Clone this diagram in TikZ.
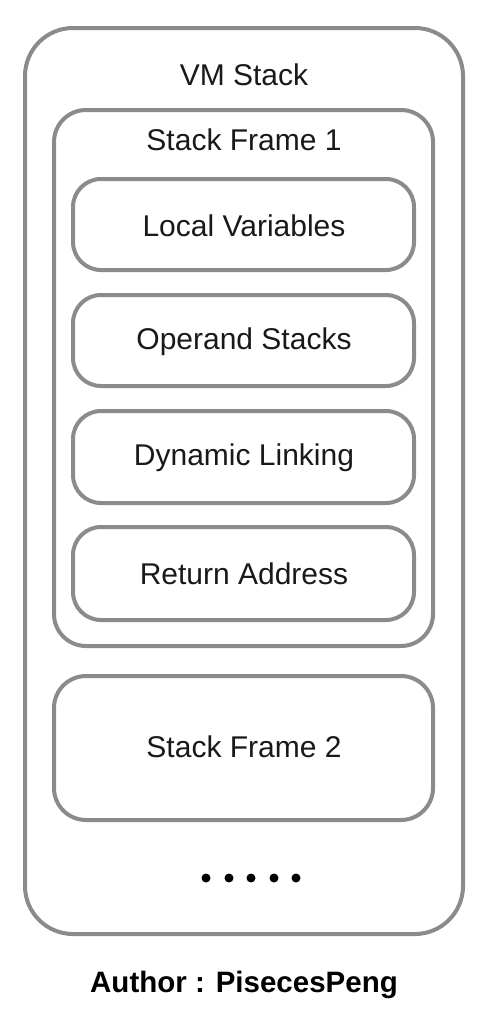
\documentclass[tikz,border=0pt]{standalone}
\usepackage{fontspec}
\setmainfont{Liberation Sans}
\begin{document}
\begin{tikzpicture}[x=1pt,y=-1pt,
  box/.style={draw=boxgray,line width=4pt},
  lbl/.style={font=\fontsize{30}{35}\selectfont,text=black!90,anchor=center,inner sep=0pt}]
\definecolor{boxgray}{HTML}{8A8B8F}
\useasboundingbox (0,0) rectangle (490,1018);
\draw[box,rounded corners=48pt] (25,28) rectangle (463,934);
\node[lbl] (vm) at (244,75) {VM Stack};
\draw[box,rounded corners=32pt] (54,110) rectangle (433,646);
\node[lbl] (sf1) at (244,140) {Stack Frame 1};
\draw[box,rounded corners=28pt] (73,179) rectangle (414,270);
\node[lbl] (lv) at (244,226) {Local Variables};
\draw[box,rounded corners=28pt] (73,295) rectangle (414,386);
\node[lbl] (os) at (244,342) {Operand Stacks};
\draw[box,rounded corners=28pt] (73,411) rectangle (414,503);
\node[lbl] (dl) at (244,458) {Dynamic Linking};
\draw[box,rounded corners=28pt] (73,527) rectangle (414,620);
\node[lbl] (ra) at (244,574) {Return Address};
\draw[box,rounded corners=32pt] (54,676) rectangle (433,820);
\node[lbl] (sf2) at (244,747) {Stack Frame 2};
\foreach \i/\x in {1/206,2/229,3/251,4/274,5/296}
  \fill[black] (\x,878) circle (4.5pt);
\node[font=\bfseries\fontsize{29.5}{34}\selectfont,anchor=base,inner sep=0pt] (auth) at (244,992) {Author : PisecesPeng};
\end{tikzpicture}
\end{document}
